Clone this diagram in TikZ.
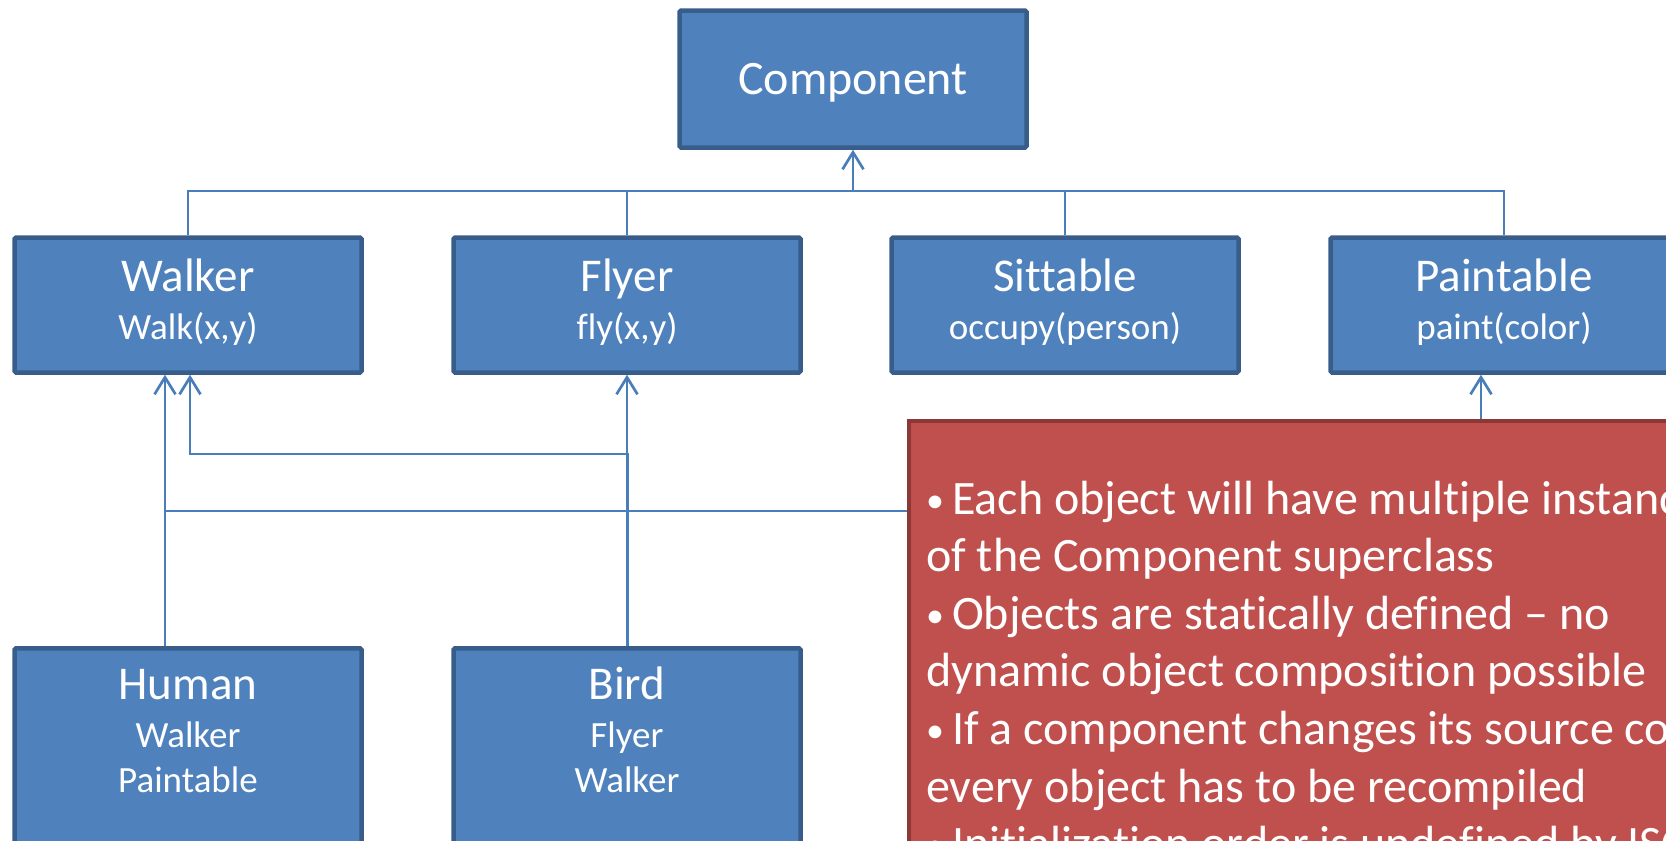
\documentclass[tikz,border=0pt]{standalone}
\usepackage{fontspec}
\setmainfont{Carlito}[Ligatures=NoCommon]
\usetikzlibrary{arrows.meta}
\definecolor{boxfill}{HTML}{4F81BD}
\definecolor{boxedge}{HTML}{385D8A}
\definecolor{wirecol}{HTML}{4A7EBB}
\definecolor{notefill}{HTML}{C0504D}
\definecolor{noteedge}{HTML}{8C3836}
\newcommand{\titlesize}{\fontsize{47}{48}\selectfont}
\newcommand{\subsize}{\fontsize{37}{48}\selectfont}
% extra depth under the last line lifts the text block a little
\newcommand{\lowpad}{\rule[-12pt]{0pt}{12pt}}
% small bullet as used in the note
\newcommand{\notebullet}{{\fontsize{36}{36}\selectfont\raisebox{2pt}{•}}\hspace{8pt}}
\tikzset{
  classbox/.style={draw=boxedge, fill=boxfill, line width=4.5pt,
    rounded corners=1.5pt, minimum width=347pt, minimum height=135pt,
    inner sep=0pt, text=white, align=center, font=\subsize},
  boxtext/.style={text=white, inner sep=0pt, anchor=base},
  wire/.style={draw=wirecol, line width=2.7pt},
  inherit/.style={wire, -{Straight Barb[length=17pt,width=21pt]}},
}
\begin{document}
\begin{tikzpicture}[x=1pt,y=-1pt]
\useasboundingbox (0,0) rectangle (1666,841);
\begin{scope}
\clip (0,0) rectangle (1666,841);

% class boxes
\node[classbox, minimum height=137pt, text depth=0pt] (component) at (853,79)
  {\fontsize{48}{48}\selectfont Component};
\node[classbox] (walker)   at (188,305)  {{\titlesize Walker}\\Walk(x,y)\lowpad};
\node[classbox] (flyer)    at (627,305)  {{\titlesize Flyer}\\fly(x,y)\lowpad};
\node[classbox] (sittable) at (1065,305) {{\titlesize Sittable}\\occupy(person)\lowpad};
\node[classbox] (paintable) at (1504,305) {{\titlesize Paintable}\\paint(color)\lowpad};

\node[classbox, anchor=north, minimum height=300pt] (human) at (188,646) {};
\node[classbox, anchor=north, minimum height=300pt] (bird)  at (627,646) {};
\node[boxtext] (humantext) at (188,699)
  {\parbox[t]{340pt}{\centering\fontsize{37}{45}\selectfont
   {\titlesize Human}\\[3pt]Walker\\Paintable}};
\node[boxtext] (birdtext) at (627,699)
  {\parbox[t]{340pt}{\centering\fontsize{37}{45}\selectfont
   {\titlesize Bird}\\[3pt]Flyer\\Walker}};

% bus to the superclass
\coordinate (bus) at (0,191);
\draw[wire] (walker.north) -- (walker.north |- bus)
  -- (paintable.north |- bus) -- (paintable.north);
\draw[wire] (flyer.north) -- (flyer.north |- bus);
\draw[wire] (sittable.north) -- (sittable.north |- bus);
\draw[inherit] (component.south |- bus) -- (component.south);

% multiple inheritance of the concrete classes
\draw[inherit] ([xshift=-23pt]human.north) -- ([xshift=-23pt]walker.south);
\draw[inherit] ([xshift=-23pt]human.north) -- ++(0,-135)
  -| ([xshift=-23pt]paintable.south);
\draw[inherit] (bird.north) -- (flyer.south);
\draw[inherit] ([xshift=1pt]bird.north) -- ++(0,-192)
  -| ([xshift=2pt]walker.south);

% note
\node[draw=noteedge, fill=notefill, line width=4pt, anchor=north west,
  minimum width=1000pt, minimum height=600pt, inner sep=0pt] (note) at (907,419) {};
\node[text=white, inner sep=0pt, anchor=base west] (notetext) at (926,514)
  {\parbox[t]{1200pt}{\raggedright\fontsize{48}{57.6}\selectfont
   \notebullet Each object will have multiple instances\\
   of the Component superclass\\
   \notebullet Objects are statically defined – no\\
   dynamic object composition possible\\
   \notebullet If a component changes its source code\\
   every object has to be recompiled\\
   \notebullet Initialization order is undefined by ISO}};
\end{scope}
\end{tikzpicture}
\end{document}
